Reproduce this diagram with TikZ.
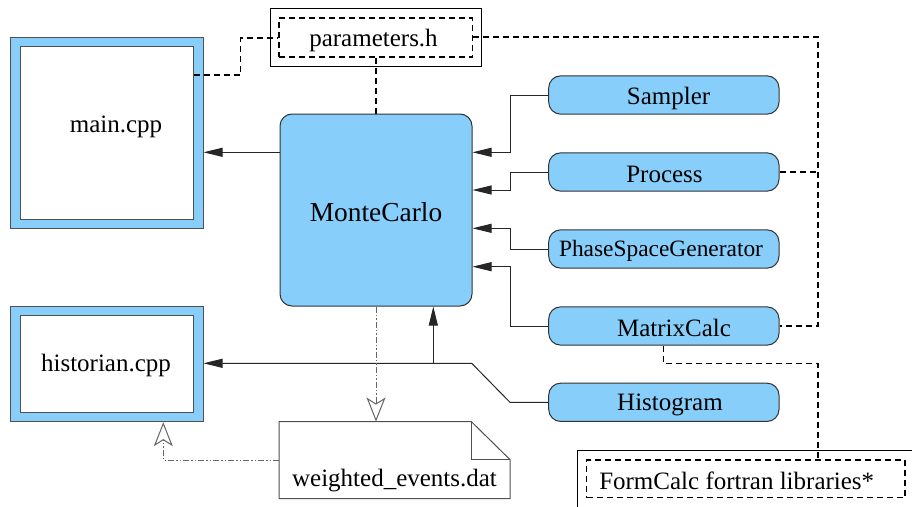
\documentclass[tikz,border=0pt]{standalone}
\usepackage{fontspec}
\setmainfont{Liberation Serif}
\usetikzlibrary{arrows.meta,calc}
\definecolor{sky}{RGB}{135,206,250}
\definecolor{edge}{RGB}{80,80,80}
\tikzset{
  txt/.style={font=\fontsize{25pt}{30pt}\selectfont, inner sep=0pt},
  frameout/.style={draw=edge, line width=1pt, fill=sky, inner sep=0pt},
  framein/.style={draw=edge, line width=1pt, fill=white, inner sep=0pt},
  module/.style={draw=black!80, line width=1pt, fill=sky, rounded corners=12pt,
    inner sep=0pt, minimum width=230.3pt, minimum height=38.3pt},
  plainbox/.style={draw=black, line width=0.9pt, fill=white, inner sep=0pt},
  dashbox/.style={draw=black, line width=1.2pt, dash pattern=on 6pt off 4pt, inner sep=0pt},
  link/.style={draw=black!85, line width=1pt},
  feed/.style={link, -{Triangle[length=19pt,width=9pt]}},
  dep/.style={draw=black, line width=1.2pt, dash pattern=on 6pt off 4pt},
  flow/.style={draw=black!60, line width=1pt, dash pattern=on 6pt off 2pt on 1.5pt off 2pt on 1.5pt off 2pt,
    -{Stealth[open,length=24pt,width=19pt,inset=6pt,fill=white]}},
}
\begin{document}
\begin{tikzpicture}[x=1pt,y=-1pt]
\useasboundingbox (0,0) rectangle (912,506);

% source files with a blue frame
\node[frameout, minimum width=193pt, minimum height=191.3pt] (mainframe) at (106.5,132.7) {};
\node[framein, minimum width=172.8pt, minimum height=172.6pt] (main) at (107,133) {};
\node[txt] (maintxt) at (116,127) {main.cpp};

\node[frameout, minimum width=193pt, minimum height=115.7pt] (histframe) at (106.5,363.85) {};
\node[framein, minimum width=172.6pt, minimum height=96.6pt] (historian) at (107,364) {};
\node[txt] (histtxt) at (106,365) {historian.cpp};

% header with parameters
\node[plainbox, minimum width=211.7pt, minimum height=58pt] (parout) at (375.85,37) {};
\node[dashbox, minimum width=193.7pt, minimum height=39pt] (parin) at (375.85,37.5) {};
\node[txt] (partxt) at (373.5,40) {parameters.h};

% central class
\node[draw=black!80, line width=1pt, fill=sky, rounded corners=12pt, inner sep=0pt,
      minimum width=192pt, minimum height=192pt] (mc) at (376,210) {};
\node[font=\fontsize{27.4pt}{32pt}\selectfont, inner sep=0pt] (mctxt) at (376,212) {MonteCarlo};

% helper classes
\node[module] (sampler) at (663.85,95) {};
\node[txt] (samplertxt) at (668.5,98) {Sampler};
\node[module] (process) at (663.85,172) {};
\node[txt] (processtxt) at (664.5,174) {Process};
\node[module] (psg) at (663.85,249) {};
\node[font=\fontsize{23.4pt}{28pt}\selectfont, inner sep=0pt] (psgtxt) at (661,251) {PhaseSpaceGenerator};
\node[module] (matrix) at (663.85,326) {};
\node[txt] (matrixtxt) at (674,328) {MatrixCalc};
\node[module] (hist) at (663.85,402.3) {};
\node[txt] (histogramtxt) at (670,405) {Histogram};

% output data file with a folded corner
\node[inner sep=0pt, minimum width=230.7pt, minimum height=76.6pt] (wev) at (394.65,460) {};
\draw[draw=edge, line width=1pt, fill=white]
  (wev.north west) -- ($(wev.north east)+(-39,0)$) -- ($(wev.north east)+(0,38.3)$)
  -- (wev.south east) -- (wev.south west) -- cycle;
\draw[draw=edge, line width=1pt]
  ($(wev.north east)+(-39,0)$) -- ($(wev.north east)+(-39,38.3)$) -- ($(wev.north east)+(0,38.3)$);
\node[txt] (wevtxt) at (394.5,481) {weighted\_events.dat};

% external libraries
\node[plainbox, minimum width=344.3pt, minimum height=66pt] (formout) at (749.85,483) {};
\node[dashbox, minimum width=318.3pt, minimum height=37.7pt] (formin) at (745.85,478.85) {};
\node[txt] (formtxt) at (736.7,481) {FormCalc fortran libraries*};

% include dependencies
\draw[dep] (main.east |- 0,75) -- (240.7,75) -- (240.7,38) -- (parin.west |- 0,38);
\draw[dep] (parin.east |- 0,37) -- (818,37) -- (818,326) -- (matrix.east);
\draw[dep] (process.east) -- (818,172);
\draw[dep] (parin.south -| mc.north) -- (mc.north);
\coordinate (libturn) at (818,363.3);
\draw[dep] (matrix.south) -- (matrix.south |- libturn) -- (libturn) -- (libturn |- formin.north);

% usage links
\draw[feed] (mc.west |- 0,152.3) -- (mainframe.east |- 0,152.3);
\draw[feed] (sampler.west) -- (510,95) -- (510,152.3) -- (mc.east |- 0,152.3);
\draw[feed] (process.west) -- (510,172) -- (510,190) -- (mc.east |- 0,190);
\draw[feed] (psg.west) -- (510,249) -- (510,228.3) -- (mc.east |- 0,228.3);
\draw[feed] (matrix.west) -- (510,326) -- (510,266.7) -- (mc.east |- 0,266.7);
\coordinate (split) at (433.3,363.3);
\draw[feed] (hist.west) -- (510,402.3) -- (471.7,363.3) -- (histframe.east |- split);
\draw[feed] (split) -- (split |- mc.south);

% data flow
\draw[flow] (mc.south) -- (mc.south |- wev.north);
\draw[flow] (wev.west |- 0,460) -- (163.3,460) -- (163.3,0 |- histframe.south);
\end{tikzpicture}
\end{document}
